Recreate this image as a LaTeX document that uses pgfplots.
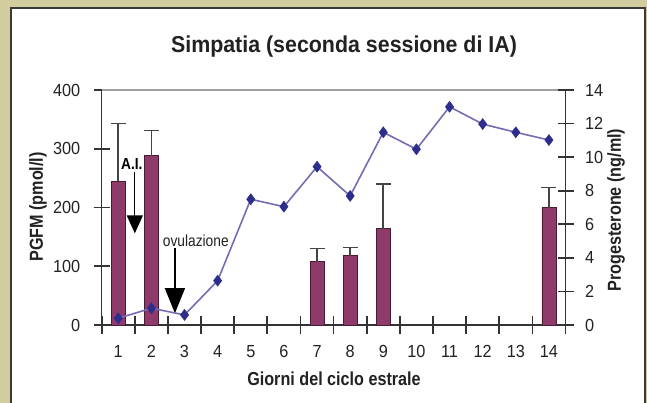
\documentclass[border=0pt]{standalone}
\usepackage{fontspec}
\setmainfont{Liberation Sans}[FakeStretch=0.93]
\newfontfamily\narrowfont{Liberation Sans}[FakeStretch=0.86]
\usepackage{pgfplots}
\pgfplotsset{compat=1.18}
\usetikzlibrary{arrows.meta}
\definecolor{bgtan}{HTML}{D3CC9F}
\definecolor{boxdark}{HTML}{3A3A3A}
\definecolor{axisdark}{HTML}{333333}
\definecolor{barfill}{HTML}{8E3B6B}
\definecolor{bardark}{HTML}{4A1A35}
\definecolor{linecol}{RGB}{115,110,180}
\definecolor{markcol}{RGB}{45,45,140}
\definecolor{errcol}{HTML}{444444}
\definecolor{topgray}{HTML}{A0A0A0}
\definecolor{txt}{HTML}{222222}

\pgfplotstableread{
x y err
1 245 98
2 288 43
7 108 22
8 118 14
9 164 76
14 200 34
}\pgfmdata

\pgfplotstableread{
x y
1 0.40
2 1.00
3 0.60
4 2.64
5 7.49
6 7.05
7 9.43
8 7.69
9 11.48
10 10.47
11 13.00
12 11.97
13 11.48
14 11.02
}\progdata

\pgfplotsset{
  common/.style={
    at={(101.7bp,78bp)}, anchor=south west,
    scale only axis, width=463.8bp, height=235bp,
    xmin=0.5, xmax=14.5, clip=false,
    tick align=center,
    major tick length=16bp, minor tick length=17bp,
    every tick/.style={line width=1.7bp, color=axisdark},
    axis line style={line width=1.5bp, color=axisdark},
    ticklabel style={font=\fontsize{17.5bp}{19bp}\selectfont, text=txt},
    /pgf/number format/assume math mode=true,
  }
}

\begin{document}
\begin{tikzpicture}
\path[use as bounding box] (0,0) rectangle (647bp,403bp);
\fill[bgtan] (0,0) rectangle (647bp,403bp);
\filldraw[fill=white, draw=boxdark, line width=1.3bp] (11bp,-10bp) rectangle (645bp,395bp);

\begin{axis}[common,
  ymin=0, ymax=400,
  axis y line*=left, axis x line*=bottom,
  ytick={0,100,200,300,400},
  xtick={1,...,14},
  minor xtick={0.5,1.5,...,14.5},
  major x tick style={draw=none},
  xticklabel style={anchor=base, yshift=-24bp},
  yticklabel style={anchor=east, xshift=-10bp},
]
\draw[topgray, line width=1.5bp] (axis cs:0.5,400) -- (axis cs:14.5,400);
\addplot[ybar, bar width=14bp, fill=barfill, draw=bardark, line width=0.8bp,
  error bars/.cd, y dir=plus, y explicit,
  error bar style={errcol, line width=1.6bp},
  error mark options={errcol, line width=1.6bp, mark size=7.5bp, rotate=90}]
  table[x=x, y=y, y error=err] {\pgfmdata};
% annotations
\node[font=\narrowfont\bfseries\fontsize{16bp}{18bp}\selectfont, text=black] at (axis cs:1.41,274) {A.I.};
\draw[black, line width=1.3bp, -{Triangle[length=18bp,width=16bp]}] (axis cs:1.5,261) -- (axis cs:1.5,156);
\node[font=\narrowfont\fontsize{16bp}{18bp}\selectfont, text=txt] at (axis cs:3.34,143) {ovulazione};
\draw[black, line width=1.3bp, -{Triangle[length=25bp,width=20bp]}] (axis cs:2.71,131) -- (axis cs:2.71,20);
\end{axis}

\begin{axis}[common,
  ymin=0, ymax=14,
  axis y line*=right, axis x line=none,
  ytick={0,2,...,14},
  yticklabel style={anchor=west, xshift=8bp},
]
\addplot[linecol, line width=1.6bp, mark=diamond*, mark size=5.5bp,
  mark options={fill=markcol, draw=markcol, line width=0.5bp}]
  table[x=x, y=y] {\progdata};
\end{axis}

\node[anchor=base, font=\bfseries\fontsize{23bp}{26bp}\selectfont, text=txt] at (344bp,350bp) {Simpatia (seconda sessione di IA)};
\node[anchor=base, font=\narrowfont\bfseries\fontsize{18.8bp}{21bp}\selectfont, text=txt] at (334bp,18bp) {Giorni del ciclo estrale};
\node[rotate=90, font=\narrowfont\bfseries\fontsize{18.8bp}{21bp}\selectfont, text=txt] at (38bp,196bp) {PGFM (pmol/l)};
\node[rotate=90, font=\narrowfont\bfseries\fontsize{18.8bp}{21bp}\selectfont, text=txt] at (616bp,193bp) {Progesterone (ng/ml)};
\end{tikzpicture}
\end{document}
